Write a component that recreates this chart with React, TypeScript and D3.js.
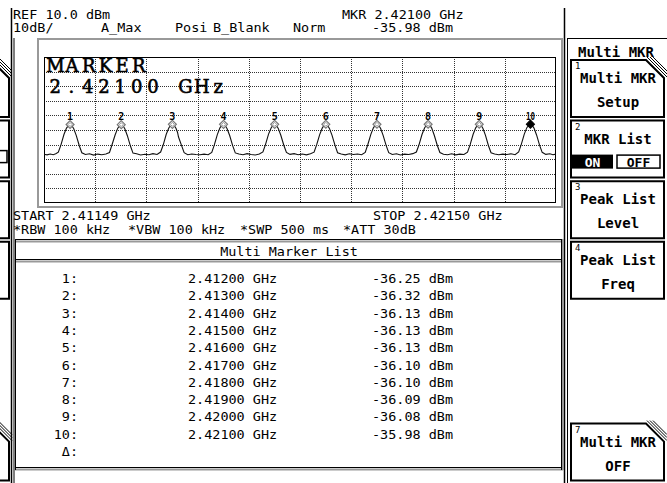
import React from "react";
import * as d3 from "d3";

// analyzer settings
const startMHz = 2411.49;
const stopMHz = 2421.5;
const refLevel = 10;
const dbPerDiv = 10;
const divisions = 10;

const markerNames = ["1", "2", "3", "4", "5", "6", "7", "8", "9", "10"];
const markerFreqs = [2412.0, 2413.0, 2414.0, 2415.0, 2416.0, 2417.0, 2418.0, 2419.0, 2420.0, 2421.0];
const markerLevels = [-36.25, -36.32, -36.13, -36.13, -36.13, -36.1, -36.1, -36.09, -36.08, -35.98];

// trace: [MHz, dBm]
const trace: [number, number][] = [
  [2411.49, -56.6], [2411.55, -57.0], [2411.61, -56.4], [2411.67, -56.9], [2411.72, -56.3],
  [2411.77, -55.2], [2411.82, -50.4], [2411.88, -43.1], [2411.93, -38.7], [2411.97, -36.8], [2412.0, -36.25], [2412.03, -36.9], [2412.07, -39.0], [2412.12, -43.7], [2412.18, -50.8], [2412.23, -55.6],
  [2412.3, -56.8], [2412.38, -56.3], [2412.46, -57.2], [2412.54, -56.5], [2412.62, -56.9], [2412.7, -56.4],
  [2412.77, -55.4], [2412.82, -50.1], [2412.88, -43.4], [2412.93, -38.9], [2412.97, -36.9], [2413.0, -36.32], [2413.03, -36.8], [2413.07, -39.2], [2413.12, -43.9], [2413.18, -51.0], [2413.23, -55.8],
  [2413.3, -56.3], [2413.38, -57.1], [2413.46, -56.6], [2413.54, -56.9], [2413.62, -56.2], [2413.7, -56.8],
  [2413.77, -55.1], [2413.82, -50.3], [2413.88, -42.9], [2413.93, -38.6], [2413.97, -36.6], [2414.0, -36.13], [2414.03, -36.7], [2414.07, -38.8], [2414.1, -41.5], [2414.12, -44.8], [2414.18, -50.7], [2414.23, -55.5],
  [2414.3, -56.9], [2414.38, -56.4], [2414.46, -56.8], [2414.54, -57.0], [2414.62, -56.5], [2414.7, -56.9],
  [2414.77, -55.3], [2414.82, -50.2], [2414.88, -43.0], [2414.93, -38.5], [2414.97, -36.7], [2415.0, -36.13], [2415.03, -36.8], [2415.07, -39.1], [2415.12, -43.8], [2415.18, -50.9], [2415.23, -55.7],
  [2415.3, -56.4], [2415.38, -56.9], [2415.46, -56.2], [2415.54, -56.8], [2415.62, -57.1], [2415.7, -56.5],
  [2415.77, -55.0], [2415.82, -50.0], [2415.88, -42.8], [2415.93, -38.6], [2415.97, -36.6], [2416.0, -36.13], [2416.03, -36.7], [2416.07, -38.9], [2416.12, -43.6], [2416.18, -50.6], [2416.23, -55.4],
  [2416.3, -56.7], [2416.38, -56.2], [2416.46, -56.9], [2416.54, -56.4], [2416.62, -57.0], [2416.7, -56.3],
  [2416.77, -55.2], [2416.82, -50.2], [2416.88, -43.2], [2416.93, -38.7], [2416.97, -36.6], [2417.0, -36.1], [2417.03, -36.6], [2417.07, -38.9], [2417.12, -43.5], [2417.18, -50.5], [2417.23, -55.6],
  [2417.3, -56.5], [2417.38, -57.0], [2417.46, -56.3], [2417.54, -56.8], [2417.62, -56.4], [2417.7, -56.9],
  [2417.77, -55.3], [2417.82, -50.1], [2417.88, -43.0], [2417.93, -38.5], [2417.97, -36.6], [2418.0, -36.1], [2418.03, -36.7], [2418.07, -38.8], [2418.12, -43.7], [2418.18, -50.7], [2418.23, -55.5],
  [2418.3, -56.8], [2418.38, -56.3], [2418.46, -57.1], [2418.54, -56.5], [2418.62, -56.8], [2418.7, -56.2],
  [2418.77, -55.1], [2418.82, -50.3], [2418.88, -43.1], [2418.93, -38.6], [2418.97, -36.6], [2419.0, -36.09], [2419.03, -36.6], [2419.07, -38.7], [2419.12, -43.6], [2419.18, -50.6], [2419.23, -55.4],
  [2419.3, -56.6], [2419.38, -56.9], [2419.46, -56.3], [2419.54, -57.0], [2419.62, -56.5], [2419.7, -56.8],
  [2419.77, -55.2], [2419.82, -50.2], [2419.88, -42.9], [2419.93, -38.5], [2419.97, -36.6], [2420.0, -36.08], [2420.03, -36.6], [2420.07, -38.8], [2420.12, -43.5], [2420.18, -50.8], [2420.23, -55.6],
  [2420.3, -56.4], [2420.38, -56.9], [2420.46, -56.5], [2420.54, -56.8], [2420.62, -56.3], [2420.7, -56.9],
  [2420.77, -55.0], [2420.82, -50.0], [2420.88, -42.8], [2420.93, -38.4], [2420.97, -36.5], [2421.0, -35.98], [2421.03, -36.5], [2421.07, -38.7], [2421.12, -43.4], [2421.18, -50.5], [2421.23, -55.3],
  [2421.3, -56.7], [2421.38, -56.3], [2421.44, -56.9], [2421.5, -56.5],
];

// text on the screen
const headerLeft = ["REF 10.0 dBm", "10dB/"];
const traceModes = ["A_Max", "Posi", "B_Blank", "Norm"];
const markerReadout = ["MKR 2.42100 GHz", "-35.98 dBm"];
const bigMarker = ["MARKER", "2.42100 GHz"];
const spanText = ["START 2.41149 GHz", "STOP 2.42150 GHz"];
const settings = ["*RBW 100 kHz", "*VBW 100 kHz", "*SWP 500 ms", "*ATT 30dB"];
const listRows = ["1:", "2:", "3:", "4:", "5:", "6:", "7:", "8:", "9:", "10:", "\u0394:"];
const listFreqs = ["2.41200 GHz", "2.41300 GHz", "2.41400 GHz", "2.41500 GHz", "2.41600 GHz", "2.41700 GHz", "2.41800 GHz", "2.41900 GHz", "2.42000 GHz", "2.42100 GHz"];
const listLevels = ["-36.25 dBm", "-36.32 dBm", "-36.13 dBm", "-36.13 dBm", "-36.13 dBm", "-36.10 dBm", "-36.10 dBm", "-36.09 dBm", "-36.08 dBm", "-35.98 dBm"];
const softkeys = [
  { n: "1", a: "Multi MKR", b: "Setup", slot: 0, corner: true },
  { n: "2", a: "MKR List", b: "", slot: 1, corner: false },
  { n: "3", a: "Peak List", b: "Level", slot: 2, corner: false },
  { n: "4", a: "Peak List", b: "Freq", slot: 3, corner: false },
  { n: "7", a: "Multi MKR", b: "OFF", slot: 6, corner: true },
];

const mono = "'DejaVu Sans Mono', monospace";
const pitch = 8.1;

function chamferBox(l: number, t: number, r: number, b: number, cut: boolean) {
  const c = 18;
  if (!cut) return `M${l},${t}H${r}V${b}H${l}Z`;
  return `M${l},${t}H${r - c}L${r},${t + c}V${b}H${l}Z`;
}

function Hatch({ r, t }: { r: number; t: number }) {
  const c = 18;
  return (
    <g stroke="#000" strokeWidth={1}>
      {[3, 6, 9].map((k) => (
        <line key={k} x1={r - c + k - 2} y1={t - 3} x2={r + 3} y2={t + c - k + 2} />
      ))}
    </g>
  );
}

// screen font: fixed 8.1px character pitch
function T({ s, x, y, anchor }: { s: string; x: number; y: number; anchor?: string }) {
  return (
    <text x={x} y={y} textAnchor={anchor} textLength={s.length * pitch} lengthAdjust="spacingAndGlyphs">
      {s}
    </text>
  );
}

// each character centred in a fixed-width cell
function cells(s: string, x0: number, w: number) {
  return s.split("").map((_, i) => x0 + w * (i + 0.5)).join(" ");
}

export default function App() {
  const x = d3.scaleLinear().domain([startMHz, stopMHz]).range([44, 556]);
  const y = d3.scaleLinear().domain([refLevel, refLevel - divisions * dbPerDiv]).range([57, 203]);
  const gx = d3.scaleLinear().domain([0, divisions]).range(x.range());
  const line = d3.line<[number, number]>().x((d) => x(d[0])).y((d) => y(d[1]));
  const diamond = d3.symbol().type(d3.symbolDiamond2).size(40)();
  const innerDiamond = d3.symbol().type(d3.symbolDiamond2).size(10)();

  const rowY = d3.scaleLinear().domain([0, 1]).range([283, 300.3]);
  const slotTop = d3.scaleLinear().domain([0, 1]).range([60, 120.6]);

  return (
    <div style={{ position: "fixed", left: 0, top: 0 }}>
      <svg width={667} height={483} style={{ display: "block", background: "#fff" }} fontFamily={mono}>
        {/* frame lines */}
        <g stroke="#000" fill="none">
          <line x1={11.5} y1={8} x2={11.5} y2={483} strokeWidth={1.5} />
          <line x1={14} y1={38} x2={14} y2={483} />
          <line x1={564.5} y1={8} x2={564.5} y2={483} strokeWidth={1.5} />
          <line x1={567.5} y1={38} x2={567.5} y2={483} />
          <line x1={567} y1={38.5} x2={667} y2={38.5} />
        </g>

        {/* left partial softkeys */}
        <g fill="none" stroke="#000" strokeWidth={2}>
          {softkeys.map((s) => {
            const t = slotTop(s.slot);
            return (
              <g key={"l" + s.n}>
                <path d={chamferBox(-90, t, 9, t + 57, s.corner)} />
                {s.corner && <Hatch r={9} t={t} />}
              </g>
            );
          })}
          <rect x={-10} y={slotTop(1) + 30} width={17} height={12} strokeWidth={1.5} />
        </g>

        {/* header */}
        <g fontSize={11.5} fill="#000">
          <T s={headerLeft[0]} x={13} y={19} />
          <T s={headerLeft[1]} x={13} y={32} />
          {traceModes.map((m, i) => (
            <T key={m} s={m} x={[101, 175, 213, 293][i]} y={32} />
          ))}
          <T s={markerReadout[0]} x={342} y={19} />
          <T s={markerReadout[1]} x={372} y={32} />
        </g>

        {/* graph frame */}
        <rect x={38} y={39} width={524} height={168} fill="none" stroke="#999" strokeWidth={2} />
        <g stroke="#333" strokeWidth={1} strokeDasharray="1,1">
          {d3.range(1, divisions).map((i) => (
            <line key={"v" + i} x1={Math.round(gx(i)) + 0.5} y1={57} x2={Math.round(gx(i)) + 0.5} y2={203} />
          ))}
          {d3.range(1, divisions).map((i) => (
            <line key={"h" + i} x1={44} y1={Math.round(y(refLevel - i * dbPerDiv)) + 0.5} x2={556} y2={Math.round(y(refLevel - i * dbPerDiv)) + 0.5} />
          ))}
        </g>
        <rect x={44.5} y={57.5} width={511} height={145} fill="none" stroke="#000" strokeWidth={1} />

        {/* big marker text */}
        <g fontFamily="'DejaVu Serif', serif" fontSize={18} fill="#000" stroke="#000" strokeWidth={0.6} textAnchor="middle">
          <text x={cells(bigMarker[0], 47, 16.7)} y={72}>{bigMarker[0]}</text>
          <text x={cells(bigMarker[1], 47, 16.3)} y={93}>{bigMarker[1]}</text>
        </g>

        {/* trace */}
        <path d={line(trace) || ""} fill="none" stroke="#111" strokeWidth={1.1} />

        {/* markers */}
        {markerFreqs.map((f, i) => {
          const cx = x(f);
          const cy = y(markerLevels[i]);
          const active = i === markerFreqs.length - 1;
          return (
            <g key={markerNames[i]}>
              <path
                d={diamond || ""}
                transform={`translate(${cx},${cy})`}
                fill={active ? "#000" : "#fff"}
                stroke={active ? "#000" : "#777"}
                strokeWidth={1.2}
              />
              {!active && (
                <path d={innerDiamond || ""} transform={`translate(${cx},${cy})`} fill="none" stroke="#999" />
              )}
              <text
                x={cx}
                y={cy - 4.5}
                textAnchor="middle"
                fontSize={10}
                fontWeight="bold"
                textLength={active ? 9 : undefined}
                lengthAdjust="spacingAndGlyphs"
              >
                {markerNames[i]}
              </text>
            </g>
          );
        })}

        {/* span and settings */}
        <g fontSize={11.5} fill="#000">
          <T s={spanText[0]} x={13} y={220} />
          <T s={spanText[1]} x={373} y={220} />
          {settings.map((s, i) => (
            <T key={s} s={s} x={[13, 128, 240, 343][i]} y={234} />
          ))}
        </g>

        {/* list panel */}
        <g fill="none">
          <line x1={15} y1={239.5} x2={563} y2={239.5} stroke="#000" />
          <line x1={15} y1={241.5} x2={563} y2={241.5} stroke="#999" strokeWidth={2} />
          <line x1={15} y1={259.5} x2={563} y2={259.5} stroke="#000" />
          <line x1={15} y1={261.5} x2={563} y2={261.5} stroke="#999" strokeWidth={2} />
          <line x1={15} y1={467.5} x2={563} y2={467.5} stroke="#000" />
          <line x1={15} y1={469.5} x2={563} y2={469.5} stroke="#999" strokeWidth={2} />
          <line x1={15.5} y1={239} x2={15.5} y2={470} stroke="#000" />
          <line x1={561.5} y1={239} x2={561.5} y2={470} stroke="#000" />
          <line x1={563} y1={239} x2={563} y2={470} stroke="#999" strokeWidth={2} />
        </g>
        <g fontSize={12} fill="#000">
          <T s="Multi Marker List" x={289} y={256} anchor="middle" />
          {listRows.map((r, i) => (
            <T key={r} s={r} x={78} y={rowY(i)} anchor="end" />
          ))}
          {listFreqs.map((f, i) => (
            <T key={"f" + i} s={f} x={188} y={rowY(i)} />
          ))}
          {listLevels.map((l, i) => (
            <T key={"l" + i} s={l} x={372} y={rowY(i)} />
          ))}
        </g>

        {/* softkey panel */}
        <text x={616} y={57} textAnchor="middle" fontSize={14} fontWeight="bold">Multi MKR</text>
        {softkeys.map((s) => {
          const t = slotTop(s.slot);
          return (
            <g key={s.n}>
              <path d={chamferBox(571, t, 664, t + 57, s.corner)} fill="none" stroke="#000" strokeWidth={2} />
              {s.corner && <Hatch r={664} t={t} />}
              <text x={575} y={t + 9} fontSize={9}>{s.n}</text>
              <text x={618} y={t + 23} textAnchor="middle" fontSize={14} fontWeight="bold">{s.a}</text>
              {s.b && (
                <text x={618} y={t + 47} textAnchor="middle" fontSize={14} fontWeight="bold">{s.b}</text>
              )}
            </g>
          );
        })}
        {/* ON / OFF toggle */}
        <rect x={572} y={slotTop(1) + 34} width={41} height={14} fill="#000" />
        <text x={592.5} y={slotTop(1) + 46} textAnchor="middle" fontSize={13} fontWeight="bold" fill="#fff">ON</text>
        <rect x={617} y={slotTop(1) + 34.5} width={43} height={13} fill="none" stroke="#000" strokeWidth={1.5} />
        <text x={638.5} y={slotTop(1) + 46} textAnchor="middle" fontSize={13} fontWeight="bold">OFF</text>
      </svg>
    </div>
  );
}
